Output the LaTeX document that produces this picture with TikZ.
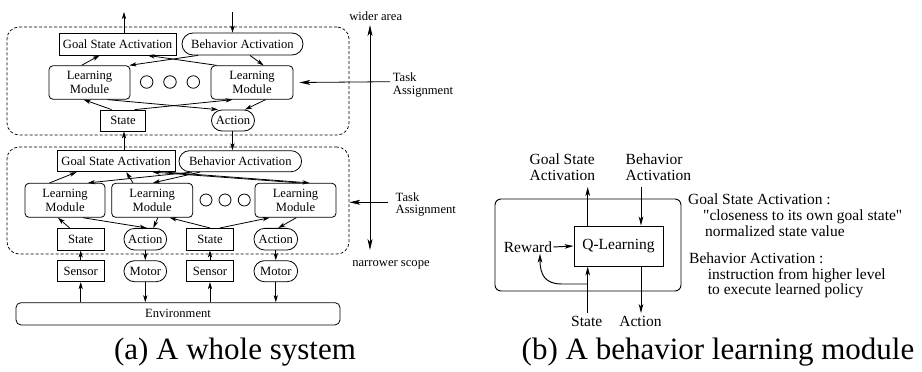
\documentclass[tikz,border=0pt]{standalone}
\usepackage{fontspec}
\setmainfont{Liberation Serif}
\usetikzlibrary{arrows.meta,shapes.misc}

\begin{document}
\begin{tikzpicture}[x=1pt,y=-1pt,
  fa/.style={font=\fontsize{12.6pt}{13.5pt}\selectfont},
  fb/.style={font=\fontsize{15.5pt}{16.5pt}\selectfont},
  fc/.style={font=\fontsize{31pt}{36pt}\selectfont},
  sq/.style={fa,draw,line width=0.8pt,inner sep=0pt,minimum height=21pt},
  pill/.style={fa,draw,line width=0.8pt,rounded rectangle,inner sep=0pt,minimum height=21pt},
  lm/.style={fa,draw,line width=0.8pt,rounded corners=4pt,inner sep=0pt,minimum width=81pt,minimum height=33.5pt,align=center},
  ringdot/.style={draw,line width=0.8pt,circle,inner sep=0pt,minimum size=12.5pt},
  grpbox/.style={draw,line width=0.7pt,dash pattern=on 3pt off 2pt,rounded corners=12pt,inner sep=0pt,minimum width=342pt},
  arr/.style={line width=0.8pt,-{Stealth[length=7pt,width=4.2pt,inset=1.8pt]}},
  bigarr/.style={line width=0.8pt,{Stealth[length=11pt,width=5pt,inset=3pt]}-{Stealth[length=11pt,width=5pt,inset=3pt]}},
  taarr/.style={line width=0.8pt,-{Stealth[length=11pt,width=5pt,inset=3pt]}},
  arrb/.style={line width=0.95pt,-{Stealth[length=9pt,width=4.6pt,inset=2.5pt]}},
  lbl/.style={fa,inner sep=0pt,anchor=base west},
  lblb/.style={fb,inner sep=0pt,anchor=base west},
]
\useasboundingbox (0,0) rectangle (922,372);

% ---------- (a) the whole system ----------
\node[grpbox,minimum height=108pt] (layerU) at (178,81) {};
\node[grpbox,minimum height=107pt] (layerL) at (178,200.5) {};

% upper layer
\node[sq,minimum width=117pt,minimum height=22pt] (gsaU) at (117.5,44) {Goal State Activation};
\node[pill,minimum width=121pt,minimum height=22pt] (baU) at (242.5,44) {Behavior Activation};
\node[lm] (lmUa) at (89.5,82.5) {Learning\\Module};
\node[lm,minimum width=82pt] (lmUb) at (252,82.5) {Learning\\Module};
\node[ringdot] (cU1) at (146.7,82) {};
\node[ringdot] (cU2) at (170,82) {};
\node[ringdot] (cU3) at (193.3,82) {};
\node[sq,minimum width=45pt] (stU) at (123,120.5) {State};
\node[pill,minimum width=43pt] (acU) at (233,120.5) {Action};

% lower layer
\node[sq,minimum width=118pt] (gsaL) at (116,161.2) {Goal State Activation};
\node[pill,minimum width=122.6pt] (baL) at (240.3,161.2) {Behavior Activation};
\node[lm,minimum width=80pt,minimum height=34pt] (lmLa) at (65,200.3) {Learning\\Module};
\node[lm,minimum height=34pt] (lmLb) at (152.2,200.3) {Learning\\Module};
\node[ringdot,minimum size=12pt] (cL1) at (206,200) {};
\node[ringdot,minimum size=12pt] (cL2) at (225,200) {};
\node[ringdot,minimum size=12pt] (cL3) at (244.3,200) {};
\node[lm,minimum height=34pt] (lmLc) at (295.5,200.3) {Learning\\Module};
\node[sq,minimum width=46.7pt,minimum height=21.7pt] (stLa) at (80.7,239.2) {State};
\node[pill,minimum width=42.7pt,minimum height=21.7pt] (acLa) at (145.3,239.2) {Action};
\node[sq,minimum width=46.7pt,minimum height=21.7pt] (stLb) at (210,239.2) {State};
\node[pill,minimum width=43.7pt,minimum height=21.7pt] (acLb) at (275.8,239.2) {Action};

% sensors, motors, environment
\node[sq,minimum width=46.7pt] (snLa) at (80.7,271.2) {Sensor};
\node[pill,minimum width=42.7pt] (moLa) at (145.3,271.2) {Motor};
\node[sq,minimum width=46.7pt] (snLb) at (210,271.2) {Sensor};
\node[pill,minimum width=43.7pt] (moLb) at (275.8,271.2) {Motor};
\node[fa,draw,line width=0.8pt,rounded corners=5pt,inner sep=0pt,minimum width=324pt,minimum height=22.3pt] (env) at (178,313.8) {Environment};

% links leaving / entering the top layer
\coordinate (outG) at (124,12);
\coordinate (inB) at (232.5,12);
\draw[arr] ([xshift=6.5pt]gsaU.north) -- (outG);
\draw[arr] (inB) -- ([xshift=-10pt]baU.north);

% upper layer wiring
\draw[arr] ([xshift=33pt]lmUa.north west) -- ([xshift=41pt]gsaU.south west);
\draw[arr] ([xshift=-44.5pt]baU.south) -- ([xshift=-1pt]lmUa.north east);
\draw[arr] ([xshift=6pt]lmUb.north west) -- ([xshift=89pt]gsaU.south west);
\draw[arr] ([xshift=7.5pt]baU.south) -- ([xshift=53pt]lmUb.north west);
\draw[arr] ([xshift=11.5pt]stU.north west) -- ([xshift=35pt]lmUa.south west);
\draw[arr] ([xshift=59pt]lmUa.south west) -- ([xshift=-15pt]acU.north);
\draw[arr] ([xshift=34.5pt]stU.north west) -- ([xshift=22pt]lmUb.south west);
\draw[arr] ([xshift=55pt]lmUb.south west) -- ([xshift=12pt]acU.north);

% between the layers
\draw[arr] ([xshift=8pt]gsaL.north) -- ([xshift=1pt]stU.south);
\draw[arr] ([xshift=-0.5pt]acU.south) -- ([xshift=-7.8pt]baL.north);

% lower layer wiring
\draw[arr] ([xshift=25pt]lmLa.north west) -- ([xshift=20pt]gsaL.south west);
\draw[arr] ([xshift=-48.3pt]baL.south) -- ([xshift=63.3pt]lmLa.north west);
\draw[arr] ([xshift=21.6pt]lmLb.north west) -- ([xshift=69.7pt]gsaL.south west);
\draw[arr] ([xshift=-40.3pt]baL.south) -- ([xshift=41.6pt]lmLb.north west);
\draw[arr] ([xshift=45pt]lmLc.north west) -- ([xshift=96pt]gsaL.south west);
\draw[arr] ([xshift=-75.3pt]baL.south) -- ([xshift=55pt]lmLc.north west);
\draw[arr] ([xshift=12.7pt]stLa.north west) -- ([xshift=33.3pt]lmLa.south west);
\draw[arr] ([xshift=58.3pt]lmLa.south west) -- ([xshift=1.4pt]acLa.north);
\draw[arr] ([xshift=46.6pt]lmLb.south west) -- ([xshift=8pt]acLa.north);
\draw[arr] (stLb.north) -- ([xshift=58.3pt]lmLb.south west);
\draw[arr] ([xshift=10pt]stLb.north) -- ([xshift=15pt]lmLc.south west);
\draw[arr] ([xshift=41.7pt]lmLc.south west) -- ([xshift=2.5pt]acLb.north);

% sensing and acting
\draw[arr] (snLa.north) -- (stLa.south);
\draw[arr] (acLa.south) -- (moLa.north);
\draw[arr] (snLb.north) -- (stLb.south);
\draw[arr] (acLb.south) -- (moLb.north);
\draw[arr] (snLa.south |- env.north) -- (snLa.south);
\draw[arr] (moLa.south) -- (moLa.south |- env.north);
\draw[arr] (snLb.south |- env.north) -- (snLb.south);
\draw[arr] (moLb.south) -- (moLb.south |- env.north);

% task assignment and scope axis
\coordinate (taU) at (390,81.7);
\coordinate (taL) at (388,202.3);
\draw[taarr] (taU) -- ([xshift=6pt]lmUb.east);
\draw[taarr] (taL) -- (layerL.east |- taL);
\node[lbl] (taUa) at (392.7,81.7) {Task};
\node[lbl] (taUb) at (392.7,94.2) {Assignment};
\node[lbl] (taLa) at (395.5,201.7) {Task};
\node[lbl] (taLb) at (395.5,213.3) {Assignment};
\coordinate (scTop) at (370,25);
\coordinate (scBot) at (370,250);
\draw[bigarr] (scTop) -- (scBot);
\node[fa,inner sep=0pt,anchor=base] (wide) at (375.7,20) {wider area};
\node[fa,inner sep=0pt,anchor=base] (narrow) at (391,266) {narrower scope};

% ---------- (b) a behavior learning module ----------
\node[draw,line width=0.95pt,rounded corners=6pt,inner sep=0pt,minimum width=186pt,minimum height=92pt] (blm) at (588,245) {};
\node[fb,draw,line width=0.95pt,inner sep=0pt,minimum width=89pt,minimum height=40pt] (ql) at (618.5,246) {Q-Learning};
\node[fb,inner sep=1pt] (reward) at (528,247) {Reward};
\coordinate (gsaOut) at (587.7,187);
\coordinate (baIn) at (641,187);
\coordinate (stIn) at (587.7,313);
\coordinate (acOut) at (641,313);
\coordinate (tap) at (587.7,284);
\node[fb,inner sep=0pt,anchor=west,align=left] (gsaLbl) at (529.5,167) {Goal State\\Activation};
\node[fb,inner sep=0pt,anchor=west,align=left] (baLbl) at (625.5,167) {Behavior\\Activation};
\node[fb,inner sep=0pt,anchor=base] (stLbl) at (586.7,326.7) {State};
\node[fb,inner sep=0pt,anchor=base] (acLbl) at (640.5,326.7) {Action};

\draw[arrb] (ql.north -| gsaOut) -- (gsaOut);
\draw[arrb] (baIn) -- (ql.north -| baIn);
\draw[arrb] (stIn) -- (ql.south -| stIn);
\draw[arrb] (ql.south -| acOut) -- (acOut);
\draw[arrb] (reward.east) -- (ql.west);
\draw[arrb] (tap) -- (562,284) .. controls (545,284) and (540,275) .. ([xshift=12pt]reward.south);

% notes
\node[lblb] (n1) at (688,204) {Goal State Activation :};
\node[lblb] (n2) at (703,220.5) {\textquotedbl closeness to its own goal state\textquotedbl};
\node[lblb] (n3) at (705,236) {normalized state value};
\node[lblb] (n4) at (689,263) {Behavior Activation :};
\node[lblb] (n5) at (707.7,279) {instruction from higher level};
\node[lblb] (n6) at (707.7,294.5) {to execute learned policy};

% captions
\node[fc,inner sep=0pt,anchor=base] (capA) at (235,359.5) {(a) A whole system};
\node[fc,inner sep=0pt,anchor=base] (capB) at (718,359.5) {(b) A behavior learning module};
\end{tikzpicture}
\end{document}
